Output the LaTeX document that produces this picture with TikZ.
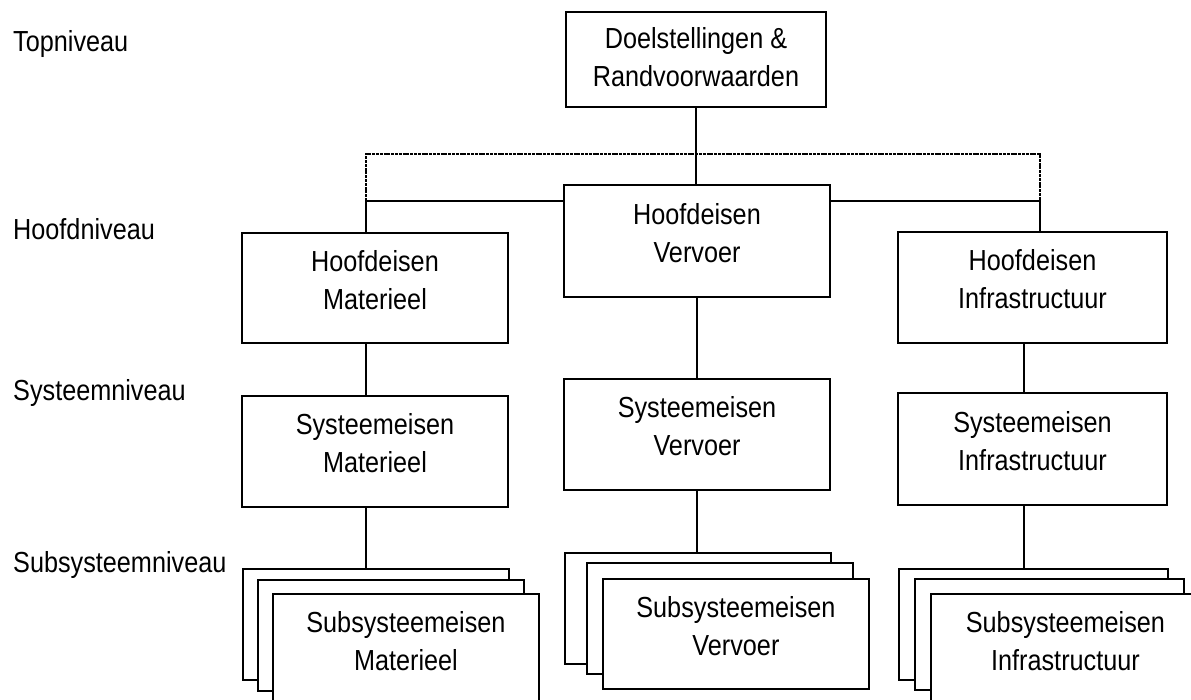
\documentclass[tikz,border=0pt]{standalone}
\usepackage{fontspec}
\setmainfont{Liberation Sans}[FakeStretch=0.87]
\begin{document}
\begin{tikzpicture}[x=1pt,y=-1pt,
  box/.style={draw, fill=white, line width=1.9pt, inner sep=0pt, minimum width=266pt, minimum height=111pt},
  wide/.style={minimum width=269pt},
  txt/.style={align=center, font=\fontsize{29}{38}\selectfont, inner sep=0pt, yshift=8pt},
  lvl/.style={anchor=base west, font=\fontsize{29}{35}\selectfont, inner sep=0pt},
  conn/.style={line width=1.9pt},
  dots/.style={line width=2.4pt, dash pattern=on 3pt off 0.8pt}]
\clip (0,0) rectangle (1191,700);
\fill[white] (0,0) rectangle (1191,700);

% level labels
\node[lvl] (l1) at (13,52) {Topniveau};
\node[lvl] (l2) at (13,240) {Hoofdniveau};
\node[lvl] (l3) at (13,400) {Systeemniveau};
\node[lvl] (l4) at (13,572) {Subsysteemniveau};

% boxes
\node[box, minimum width=260pt, minimum height=95pt,
      label={[txt,yshift=-6pt]center:Doelstellingen \&\\Randvoorwaarden}] (top) at (696,59.5) {};
\node[box, minimum height=112pt, label={[txt]center:Hoofdeisen\\Vervoer}] (hv) at (697,241) {};
\node[box, minimum height=110pt, label={[txt]center:Hoofdeisen\\Materieel}] (hm) at (375,288) {};
\node[box, wide, label={[txt]center:Hoofdeisen\\Infrastructuur}] (hi) at (1032.5,287.5) {};
\node[box, label={[txt]center:Systeemeisen\\Materieel}] (sm) at (375,451.5) {};
\node[box, label={[txt]center:Systeemeisen\\Vervoer}] (sv) at (697,434.5) {};
\node[box, wide, minimum height=112pt, label={[txt]center:Systeemeisen\\Infrastructuur}] (si) at (1032.5,449) {};

% stacks
\node[box, anchor=north west] (mb) at (242,568) {};
\node[box, anchor=north west] (mm) at (257,579) {};
\node[box, anchor=north west, label={[txt]center:Subsysteemeisen\\Materieel}] (mf) at (272,593) {};

\node[box, anchor=north west] (vb) at (564,552) {};
\node[box, anchor=north west] (vm) at (586,562) {};
\node[box, anchor=north west, minimum height=110pt, label={[txt]center:Subsysteemeisen\\Vervoer}] (vf) at (602,578) {};

\node[box, wide, anchor=north west] (ib) at (898,568) {};
\node[box, wide, anchor=north west] (im) at (914,578) {};
\node[box, wide, anchor=north west, label={[txt]center:Subsysteemeisen\\Infrastructuur}] (if) at (930,593) {};

% junction coordinates
\coordinate (jl) at (366,201);
\coordinate (jr) at (1040,201);
\coordinate (dl) at (366,154);
\coordinate (dr) at (1040,154);
\coordinate (ci) at (1024,400);

% connectors
\draw[conn] (top.south) -- (top.south |- hv.north);
\draw[dots] (jl) -- (dl) -- (dr) -- (jr);
\draw[conn] (hv.west |- jl) -- (jl) -- (jl |- hm.north);
\draw[conn] (hv.east |- jr) -- (jr) -- (jr |- hi.north);

\draw[conn] (jl |- hm.south) -- (jl |- sm.north);
\draw[conn] (jl |- sm.south) -- (jl |- mb.north);
\draw[conn] (hv.south) -- (hv.south |- sv.north);
\draw[conn] (sv.south) -- (sv.south |- vb.north);
\draw[conn] (ci |- hi.south) -- (ci |- si.north);
\draw[conn] (ci |- si.south) -- (ci |- ib.north);
\end{tikzpicture}
\end{document}
